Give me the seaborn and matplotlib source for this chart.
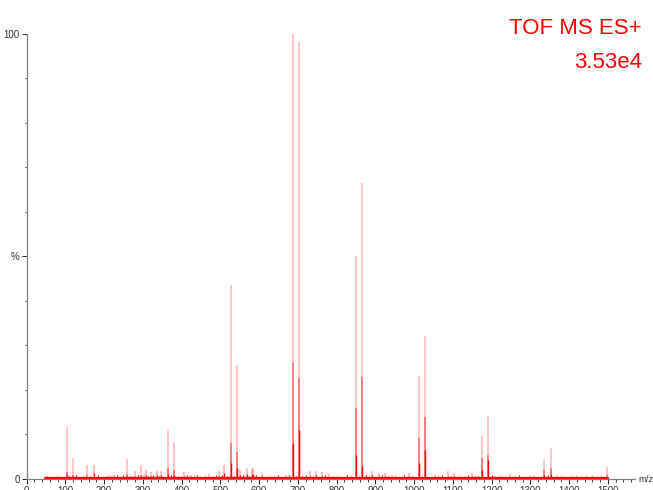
import numpy as np
import matplotlib
matplotlib.use("Agg")
import matplotlib.pyplot as plt
from matplotlib.ticker import MultipleLocator
import seaborn as sns

sns.set_theme(style="white")
plt.rcParams["font.family"] = ["Liberation Sans", "DejaVu Sans"]

# ── main peaks: m/z, top intensity (%), mid-dense part, core part ──
peak_mz   = [104, 119, 155, 258, 295, 365, 381, 527, 543, 688, 704,
             850, 866, 1012, 1028, 1175, 1191, 1336, 1354, 1497]
peak_top  = [11.7, 4.8, 3.1, 4.4, 3.1, 11.2, 8.4, 43.6, 25.6, 100.0, 98.2,
             50.1, 66.5, 23.1, 32.0, 9.7, 14.2, 4.6, 7.0, 2.8]
peak_mid  = [1.5, 1.0, 0.8, 1.2, 1.0, 2.5, 2.0, 8.0, 6.0, 26.0, 22.7,
             16.0, 23.0, 9.2, 14.0, 4.7, 5.5, 2.0, 2.5, 0.8]
peak_core = [0.8, 0.6, 0.5, 0.6, 0.6, 1.2, 1.0, 3.5, 2.5, 8.0, 11.0,
             5.4, 2.9, 3.5, 6.5, 2.0, 4.2, 1.0, 1.2, 0.5]

# ── small peaks ──
minor_mz  = [175, 213, 226, 280, 303, 308, 320, 336, 347, 406, 424, 472,
             497, 510, 551, 568, 581, 585, 607, 670, 731, 747, 762, 781,
             892, 910, 925, 942, 987, 1054, 1087, 1103, 1132, 1149, 1209,
             1248, 1369]
minor_int = [3.1, 1.0, 1.0, 1.7, 1.2, 2.0, 1.5, 1.9, 1.9, 1.6, 1.0, 1.2,
             1.7, 3.1, 2.0, 2.5, 2.2, 2.4, 1.3, 0.8, 1.7, 1.9, 1.6, 1.2,
             1.8, 1.3, 1.3, 1.0, 1.3, 0.8, 1.7, 1.3, 0.7, 1.3, 0.7,
             1.2, 0.8]

# ── baseline grass ──
noise_mz  = [52, 63, 78, 91, 110, 128, 137, 146, 163, 184, 196, 204, 219,
             233, 241, 249, 266, 272, 287, 314, 327, 341, 356, 372, 390,
             398, 415, 432, 441, 450, 461, 480, 489, 505, 518, 535, 558,
             575, 593, 615, 628, 639, 648, 657, 678, 695, 712, 722, 739,
             755, 770, 790, 802, 815, 826, 838, 858, 876, 884, 900, 918,
             934, 951, 962, 975, 995, 1020, 1040, 1062, 1071, 1079, 1095,
             1115, 1124, 1140, 1158, 1166, 1183, 1200, 1218, 1228, 1238,
             1260, 1272, 1285, 1296, 1310, 1322, 1345, 1380, 1392, 1405,
             1417, 1430, 1444, 1458, 1470, 1483, 1493]
noise_int = [0.6, 0.5, 0.7, 0.4, 0.6, 0.8, 0.5, 0.7, 0.6, 0.9, 0.5, 0.6,
             0.7, 0.8, 0.5, 0.9, 0.6, 0.7, 0.8, 0.6, 0.9, 0.7, 0.5, 0.8,
             0.6, 0.7, 0.9, 0.6, 0.8, 0.5, 0.7, 0.6, 0.9, 0.8, 0.6, 0.7,
             0.8, 0.6, 0.9, 0.5, 0.7, 0.6, 0.8, 0.5, 0.9, 0.6, 0.7, 0.8,
             0.6, 0.5, 0.9, 0.6, 0.7, 0.5, 0.8, 0.6, 0.7, 0.9, 0.6, 0.5,
             0.8, 0.6, 0.7, 0.5, 0.9, 0.6, 0.7, 0.5, 0.6, 0.8, 0.5, 0.7,
             0.6, 0.5, 0.9, 0.6, 0.7, 0.5, 0.8, 0.6, 0.7, 0.5, 0.6, 0.8,
             0.5, 0.7, 0.6, 0.5, 0.8, 0.6, 0.5, 0.7, 0.6, 0.5, 0.7, 0.6,
             0.5, 0.7, 0.5]

baseline_mz  = [48, 1500]
baseline_int = [0.25, 0.25]

x_ticks  = list(range(0, 1501, 100))
x_labels = [str(t) for t in x_ticks]
y_ticks  = [0, 50, 100]
y_labels = ["0", "%", "100"]

PINK = (1.0, 0.0, 0.0, 0.22)
MID  = (1.0, 0.0, 0.0, 0.50)
RED  = (1.0, 0.0, 0.0, 1.00)

fig = plt.figure(figsize=(6.53, 4.9), dpi=100)
ax = fig.add_axes([0.0406, 0.0224, 0.9318, 0.9092])

# grass + baseline
ax.vlines(noise_mz, 0, noise_int, color=RED, lw=0.8)
sns.lineplot(x=baseline_mz, y=baseline_int, color="red", lw=1.6, ax=ax)

# minor peaks
ax.vlines(minor_mz, 0, minor_int, color=(1.0, 0.0, 0.0, 0.30), lw=1.2)
ax.vlines(minor_mz, 0, np.array(minor_int) * 0.45, color=RED, lw=0.9)

# major peaks (layered)
ax.vlines(peak_mz, 0, peak_top, color=PINK, lw=1.4)
ax.vlines(peak_mz, 0, peak_mid, color=MID, lw=1.1)
ax.vlines(peak_mz, 0, peak_core, color=RED, lw=1.0)

ax.set_xlim(0, 1570)
ax.set_ylim(0, 100)

sns.despine(ax=ax)
for side in ["left", "bottom"]:
    ax.spines[side].set_color("#7f7f7f")
    ax.spines[side].set_linewidth(0.9)

ax.set_xticks(x_ticks)
ax.set_xticklabels(x_labels)
ax.xaxis.set_minor_locator(MultipleLocator(20))
ax.set_yticks(y_ticks)
ax.set_yticklabels(y_labels)
ax.yaxis.set_minor_locator(MultipleLocator(10))

ax.tick_params(axis="both", which="major", direction="out", length=3.5,
               width=0.7, color="#222222", labelsize=7, labelcolor="#333333",
               pad=1.5, bottom=True, left=True)
ax.tick_params(axis="both", which="minor", direction="out", length=1.8,
               width=0.6, color="#222222", bottom=True, left=True)
ax.set_xlabel("")
ax.set_ylabel("")

ax.text(1.006, 0.0, "m/z", transform=ax.transAxes, fontsize=6.8,
        color="#333333", ha="left", va="center")

fig.text(0.983, 0.941, "TOF MS ES+", color="red", fontsize=16,
         ha="right", va="center")
fig.text(0.983, 0.872, "3.53e4", color="red", fontsize=16,
         ha="right", va="center")

fig.savefig("out.png", dpi=100)
